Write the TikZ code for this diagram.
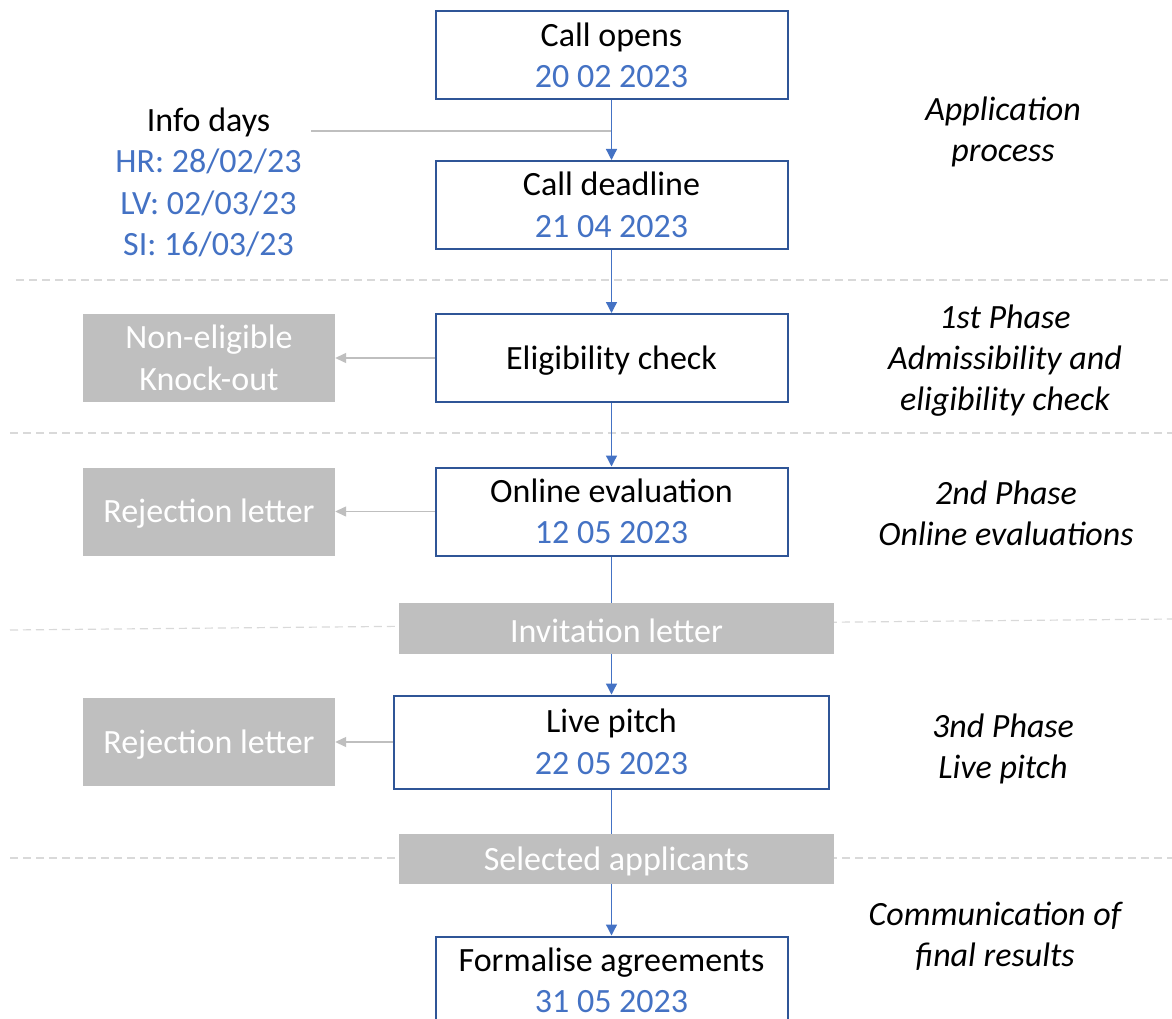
\documentclass[tikz,border=0pt]{standalone}
\usepackage{fontspec}
\setmainfont{Carlito}
\usetikzlibrary{arrows.meta}
\definecolor{dateblue}{HTML}{4472C4}
\definecolor{boxblue}{HTML}{2F5597}
\definecolor{greyfill}{HTML}{BFBFBF}
\definecolor{sepgrey}{HTML}{D9D9D9}
\tikzset{
  txt/.style={font=\fontsize{34}{41.5}\selectfont, align=center, inner sep=0pt},
  oneline/.style={text height=28pt},
  mainbox/.style={txt, draw=boxblue, line width=2pt, fill=white, minimum width=352pt, minimum height=88pt},
  greybox/.style={txt, fill=greyfill, text=white, minimum width=252pt, minimum height=88pt},
  bandbox/.style={txt, oneline, fill=greyfill, text=white, minimum width=435pt, minimum height=51pt},
  phase/.style={txt, font=\fontsize{34}{41}\selectfont\itshape},
  flow/.style={draw=dateblue, line width=1.3pt},
  flowarrow/.style={flow, -{Triangle[width=11pt,length=11pt]}},
  rejarrow/.style={draw=greyfill, line width=1.3pt, -{Triangle[width=10pt,length=11pt]}},
  infoline/.style={draw=greyfill, line width=1.3pt},
  sepline/.style={draw=sepgrey, line width=1.2pt, dash pattern=on 8pt off 5pt}
}
\begin{document}
\begin{tikzpicture}[x=1pt,y=-1pt]
\clip (0,0) rectangle (1172,1019);
\fill[white] (0,0) rectangle (1172,1019);
% separators
\draw[sepline] (16,280) -- (1172,280);
\draw[sepline] (10,433) -- (1172,433);
\draw[sepline] (10,630) -- (1172,619);
\draw[sepline] (10,858) -- (1172,858);
% main flow
\node[mainbox] (open) at (611.5,55.5) {Call opens\\\textcolor{dateblue}{20 02 2023}};
\node[mainbox] (deadline) at (611.5,205) {Call deadline\\\textcolor{dateblue}{21 04 2023}};
\node[mainbox, oneline] (elig) at (611.5,358) {Eligibility check};
\node[mainbox] (online) at (611.5,511.5) {Online evaluation\\\textcolor{dateblue}{12 05 2023}};
\node[bandbox] (invite) at (616.5,628.5) {Invitation letter};
\node[mainbox, minimum width=435pt, minimum height=93pt] (pitch) at (611.5,742) {Live pitch\\\textcolor{dateblue}{22 05 2023}};
\node[bandbox, minimum height=50pt] (selected) at (616.5,859) {Selected applicants};
\node[mainbox, minimum height=88pt] (formal) at (611.5,980.5) {Formalise agreements\\\textcolor{dateblue}{31 05 2023}};
% left
\node[txt] (info) at (208.5,182.5) {Info days\\\textcolor{dateblue}{HR: 28/02/23}\\\textcolor{dateblue}{LV: 02/03/23}\\\textcolor{dateblue}{SI: 16/03/23}};
\node[greybox] (noneelig) at (209,358) {Non-eligible\\Knock-out};
\node[greybox, oneline] (rej1) at (209,511.5) {Rejection letter};
\node[greybox, oneline] (rej2) at (209,742) {Rejection letter};
% right phase labels
\node[phase] (ph0) at (1003,132) {Application\\process};
\node[phase] (ph1) at (1005,360.5) {1st Phase\\Admissibility and\\eligibility check};
\node[phase] (ph2) at (1006,513) {2nd Phase\\Online evaluations};
\node[phase] (ph3) at (1003,749) {3nd Phase\\Live pitch};
\node[phase] (ph4) at (995,936) {Communication of\\final results};
% connectors
\coordinate (infostart) at (311,131);
\coordinate (infojoin) at (611.5,131);
\draw[infoline] (infostart) -- (infojoin);
\draw[flowarrow] (open) -- (deadline);
\draw[flowarrow] (deadline) -- (elig);
\draw[flowarrow] (elig) -- (online);
\draw[flow] (online.south) -- (online.south |- invite.north);
\draw[flowarrow] (online.south |- invite.south) -- (pitch.north);
\draw[flow] (pitch.south) -- (pitch.south |- selected.north);
\draw[flowarrow] (pitch.south |- selected.south) -- (formal.north);
\draw[rejarrow] (elig.west) -- (noneelig.east);
\draw[rejarrow] (online.west) -- (rej1.east);
\draw[rejarrow] (pitch.west) -- (rej2.east);
\end{tikzpicture}
\end{document}
